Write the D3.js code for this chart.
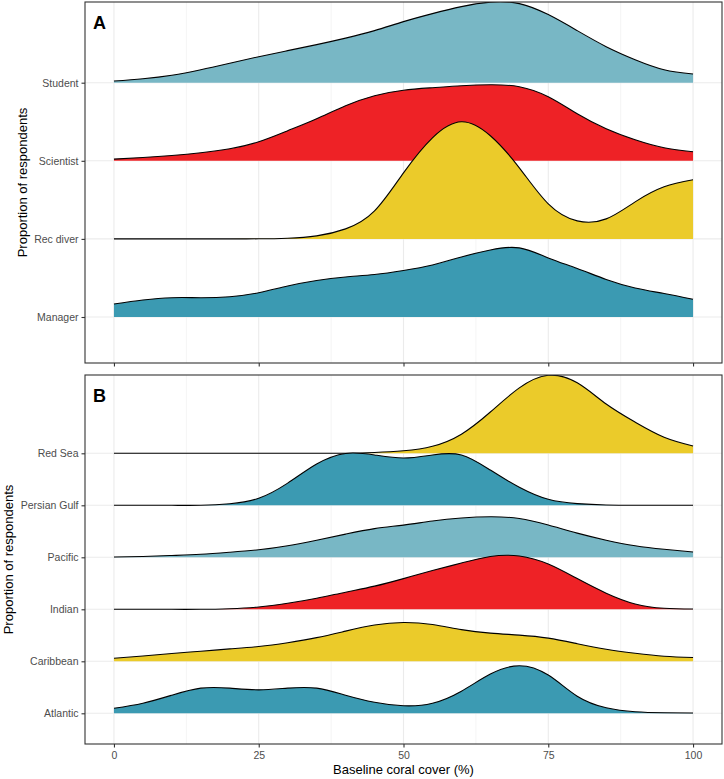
<!DOCTYPE html>
<html>
<head>
<meta charset="utf-8">
<script src="https://cdn.jsdelivr.net/npm/d3@7"></script>
<style>
  html, body { margin: 0; padding: 0; background: #fff; }
  svg { display: block; font-family: "Liberation Sans", Arial, Helvetica, sans-serif; }
</style>
</head>
<body>
<svg id="chart" width="724" height="779"></svg>
<script>
// ---------------- DATA ----------------
// Baseline coral cover grid (%)
const coverGrid = [0,5,10,15,20,25,30,35,40,45,50,55,60,65,70,75,80,85,90,95,100];
const xTicks = [0,25,50,75,100];

// Panel A: respondent type (top to bottom)
const groupsA = ["Student","Scientist","Rec diver","Manager"];
const colorsA = ["#78B7C5","#EE2226","#EBCB2A","#3B9AB2"];
const studentDensity   = [1.7,4,7.5,13,19.5,26,32,38,44.5,52,61,69,76,80.5,79,68,52,36,23,13,8.7];
const scientistDensity = [1.7,3.3,5.3,8,12,19,30,42,55,65,70.5,73,75,76,74,64,47,32,21,13,9];
const recDiverDensity  = [0,0,0,0,0,0.1,0.7,3,10,28,66,101,117,103,71,35,18,20,37,52,59];
const managerDensity   = [13,17,19.3,19.3,20.3,24.3,31,36.5,40,42.5,46.5,52,60,67,69,59,48.5,37.5,29,23.5,17.7];

// Panel B: region (top to bottom)
const groupsB = ["Red Sea","Persian Gulf","Pacific","Indian","Caribbean","Atlantic"];
const colorsB = ["#EBCB2A","#3B9AB2","#78B7C5","#EE2226","#EBCB2A","#3B9AB2"];
const redSeaDensity      = [0,0,0,0,0,0,0,0,0.1,0.8,2.5,7,19,41,65,77.5,70,49,31,16,7.3];
const persianGulfDensity = [0,0,0,0,1.5,7,22,41,51.5,50,47,50,50,35,18,6,1.7,0.3,0,0,0];
const pacificDensity     = [0.3,0.8,1.8,3,5,7.5,11.5,17,23,28.5,32,36,39,40.3,38.5,32,24,17,11.5,8,5.3];
const indianDensity      = [0,0,0,0,0.6,2.3,6,11,17,23,30.5,38.5,46,52.5,53,45,30.5,16,5.3,1,0.3];
const caribbeanDensity   = [3,5.3,7.8,10,12.3,14.7,18.5,23.5,30,36,38.5,36.5,31.5,28,26,23,17.5,12,8,5,3.7];
const atlanticDensity    = [5,10,18,25,25,23.3,25,25,18,11,7.5,10,22,39,47.3,38,17,5.5,1.5,0.5,0.3];

const densitiesA = [studentDensity, scientistDensity, recDiverDensity, managerDensity];
const densitiesB = [redSeaDensity, persianGulfDensity, pacificDensity, indianDensity, caribbeanDensity, atlanticDensity];

// ---------------- LAYOUT ----------------
const svg = d3.select("#chart");
const ridgeScale = 1.5;
const panelLeft = 85, panelRight = 722;

const x = d3.scaleLinear().domain([-5, 105]).range([panelLeft, panelRight]);

function drawPanel(cfg) {
  const { groups, colors, densities, top, bottom, firstBase, lastBase, label, titleX, showXLabels } = cfg;
  const g = svg.append("g");
  const y = d3.scalePoint().domain(groups).range([firstBase, lastBase]);
  const step = y.step();
  const maxD = d3.max(densities.flat());
  const h = d3.scaleLinear().domain([0, maxD]).range([0, ridgeScale * step]);

  // background
  g.append("rect").attr("x", panelLeft).attr("y", top)
    .attr("width", panelRight - panelLeft).attr("height", bottom - top).attr("fill", "#fff");

  // clip to panel
  const clipId = "clip-" + label;
  g.append("clipPath").attr("id", clipId).append("rect")
    .attr("x", panelLeft).attr("y", top).attr("width", panelRight - panelLeft).attr("height", bottom - top);

  // minor vertical grid
  const minor = [12.5, 37.5, 62.5, 87.5];
  g.selectAll(".minor").data(minor).join("line")
    .attr("x1", d => x(d)).attr("x2", d => x(d)).attr("y1", top).attr("y2", bottom)
    .attr("stroke", "#EBEBEB").attr("stroke-width", 0.55);
  // major vertical grid
  g.selectAll(".major").data(xTicks).join("line")
    .attr("x1", d => x(d)).attr("x2", d => x(d)).attr("y1", top).attr("y2", bottom)
    .attr("stroke", "#EBEBEB").attr("stroke-width", 1.1);
  // horizontal grid at baselines
  g.selectAll(".hgrid").data(groups).join("line")
    .attr("x1", panelLeft).attr("x2", panelRight).attr("y1", d => y(d)).attr("y2", d => y(d))
    .attr("stroke", "#EBEBEB").attr("stroke-width", 1.1);

  const ridges = g.append("g").attr("clip-path", `url(#${clipId})`);
  // ridges, top to bottom so lower ones overlap upper ones
  groups.forEach((grp, i) => {
    const base = y(grp);
    const pts = coverGrid.map((c, j) => ({ c, d: densities[i][j] }));
    const area = d3.area().curve(d3.curveNatural)
      .x(p => x(p.c)).y0(base).y1(p => base - h(p.d));
    const line = d3.line().curve(d3.curveNatural)
      .x(p => x(p.c)).y(p => base - h(p.d));
    ridges.append("path").attr("d", area(pts)).attr("fill", colors[i]).attr("stroke", "none");
    ridges.append("path").attr("d", line(pts)).attr("fill", "none")
      .attr("stroke", "#000").attr("stroke-width", 1.1);
  });

  // border
  g.append("rect").attr("x", panelLeft).attr("y", top)
    .attr("width", panelRight - panelLeft).attr("height", bottom - top)
    .attr("fill", "none").attr("stroke", "#333").attr("stroke-width", 1.1);

  // y axis
  const yAxis = d3.axisLeft(y).tickSize(3.5).tickPadding(3);
  const ya = g.append("g").attr("transform", `translate(${panelLeft},0)`).call(yAxis);
  ya.select(".domain").remove();
  ya.selectAll(".tick line").attr("stroke", "#333").attr("stroke-width", 1.1);
  ya.selectAll(".tick text").attr("fill", "#4D4D4D").style("font-size", "10.5px")
    .style("font-family", '"Liberation Sans", Arial, Helvetica, sans-serif');

  // x axis
  const xAxis = d3.axisBottom(x).tickValues(xTicks).tickSize(3.5).tickPadding(4)
    .tickFormat(showXLabels ? d3.format("d") : () => "");
  const xa = g.append("g").attr("transform", `translate(0,${bottom})`).call(xAxis);
  xa.select(".domain").remove();
  xa.selectAll(".tick line").attr("stroke", "#333").attr("stroke-width", 1.1);
  xa.selectAll(".tick text").attr("fill", "#4D4D4D").style("font-size", "10.5px")
    .style("font-family", '"Liberation Sans", Arial, Helvetica, sans-serif');

  // y title
  g.append("text")
    .attr("transform", `translate(${titleX},${(top + bottom) / 2}) rotate(-90)`)
    .attr("text-anchor", "middle").attr("dominant-baseline", "central")
    .style("font-size", "13px").attr("fill", "#000")
    .text("Proportion of respondents");

  // panel tag
  g.append("text").attr("x", 93).attr("y", top + 27)
    .style("font-size", "18px").style("font-weight", "bold").attr("fill", "#000")
    .text(label);
}

drawPanel({
  groups: groupsA, colors: colorsA, densities: densitiesA,
  top: 2, bottom: 363, firstBase: 82.7, lastBase: 317,
  label: "A", titleX: 22, showXLabels: false
});

drawPanel({
  groups: groupsB, colors: colorsB, densities: densitiesB,
  top: 375, bottom: 744, firstBase: 453.3, lastBase: 713.3,
  label: "B", titleX: 8, showXLabels: true
});

// x title
svg.append("text").attr("x", x(50)).attr("y", 774)
  .attr("text-anchor", "middle").style("font-size", "13px").attr("fill", "#000")
  .text("Baseline coral cover (%)");
</script>
</body>
</html>
